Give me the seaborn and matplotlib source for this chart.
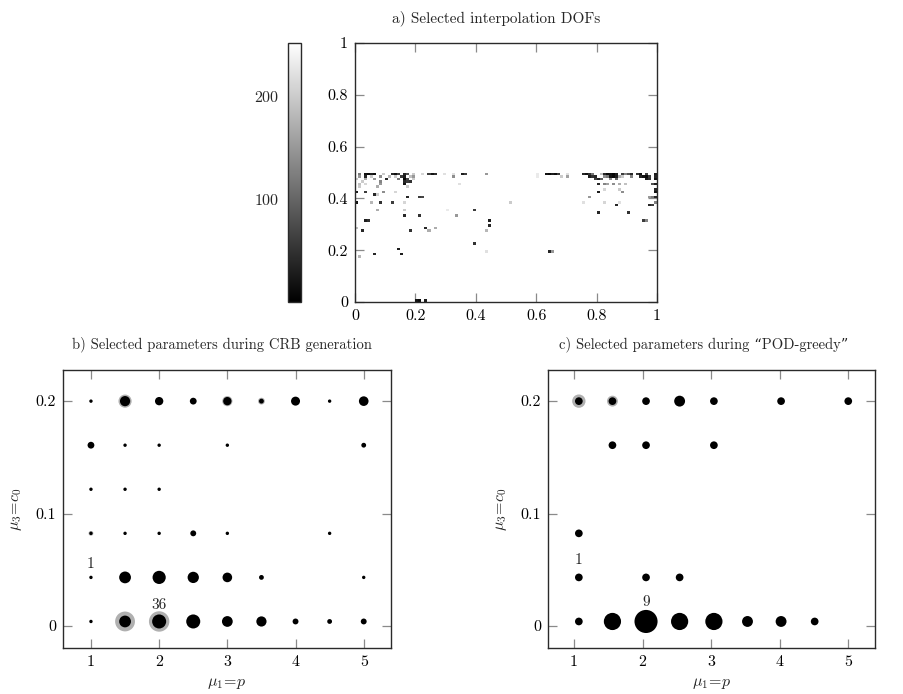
import numpy as np
import pandas as pd
import matplotlib
matplotlib.use("Agg")
import matplotlib.pyplot as plt
from matplotlib.ticker import FuncFormatter, FixedLocator
import seaborn as sns

sns.set_theme(style="white")
plt.rcParams["font.family"] = ["cmr10", "DejaVu Serif"]
plt.rcParams["mathtext.fontset"] = "cm"
plt.rcParams["axes.formatter.use_mathtext"] = True
plt.rcParams["axes.unicode_minus"] = False

# ---------------- data ----------------
# a) interpolation DOFs on a 100x100 grid: column, row, selection order
dof_col = [1, 3, 4, 5, 6, 9, 12, 13, 14, 16, 17, 19, 22, 24, 25, 26, 29, 32, 35, 36, 43,
           1, 3, 5, 8, 11, 13, 15, 16, 18, 19, 32,
           0, 3, 6, 10, 14, 16, 17, 19,
           2, 8, 16, 17, 18,
           1, 3, 8, 16, 34,
           1, 7, 17,
           0, 3, 9, 13,
           6, 7,
           17, 21, 22,
           0, 5, 8, 12, 16,
           7, 16, 30, 39,
           16, 21,
           3, 4,
           23, 26, 0,
           2, 18, 24,
           14,
           6, 15, 1,
           20, 21, 23,
           60, 63, 64, 65, 66, 67, 70, 75, 76, 77, 78, 81, 82, 83, 84, 85, 86, 88, 89, 90, 91, 93, 94, 96, 99,
           60, 68, 70, 77, 78, 79, 82, 83, 84, 85, 86, 87, 88, 91, 94, 95, 96, 97, 99,
           79, 80, 81, 84, 86, 96, 97, 99,
           80, 82, 83, 85, 87, 89, 98, 99,
           82, 87, 99,
           80, 88, 99,
           77, 97, 98, 99,
           51, 75, 82, 87, 99,
           86, 97, 98,
           80, 90,
           33,
           44, 95, 96,
           44,
           43,
           39,
           43, 64, 65]
dof_row = [49] * 21 + [48] * 11 + [47] * 8 + [46] * 5 + [45] * 5 + [44] * 3 + [42] * 4 + \
          [41] * 2 + [40] * 3 + [38] * 5 + [35] * 4 + [33] * 2 + [31] * 2 + [28] * 3 + \
          [27] * 3 + [20] + [18, 18, 17] + [0] * 3 + \
          [49] * 25 + [48] * 19 + [47] * 8 + [45] * 8 + [43] * 3 + [42] * 3 + [40] * 4 + \
          [38] * 5 + [37] * 3 + [34] * 2 + [33] + [31] * 3 + [29] + [27] + [22] + [19] * 3
dof_order = [120, 20, 10, 30, 15, 200, 40, 15, 60, 40, 80, 200, 210, 60, 20, 45, 220, 220, 30, 60, 150,
             150, 40, 200, 140, 180, 200, 60, 30, 190, 150, 140,
             200, 170, 150, 40, 120, 10, 70, 200,
             200, 130, 40, 60, 50,
             190, 210, 150, 20, 220,
             200, 170, 200,
             30, 60, 140, 210,
             40, 200,
             40, 60, 70,
             20, 180, 50, 60, 210,
             170, 200, 230, 60,
             40, 50,
             30, 50,
             40, 170, 190,
             40, 50, 170,
             30,
             40, 30, 180,
             20, 10, 30,
             230, 20, 10, 30, 15, 60, 220, 40, 20, 50, 120, 190, 40, 10, 15, 5, 30, 60, 130, 80, 40, 50, 20, 70, 30,
             230, 200, 160, 30, 50, 40, 140, 120, 20, 10, 30, 170, 200, 130, 40, 20, 10, 60, 40,
             60, 30, 90, 140, 100, 30, 50, 20,
             40, 130, 160, 140, 170, 190, 80, 30,
             210, 200, 40,
             30, 140, 20,
             150, 150, 120, 40,
             200, 220, 210, 220, 130,
             40, 40, 60,
             40, 50,
             150,
             30, 60, 130,
             40,
             180,
             50,
             220, 40, 150]

# b) CRB generation: selected (mu1, c0) and counts
crb_mu1 = [1, 1.5, 2, 2.5, 3, 3.5, 4, 4.5, 5,
           1, 1.5, 2, 3, 5,
           1, 1.5, 2,
           1, 1.5, 2, 2.5, 3, 4.5,
           1, 1.5, 2, 2.5, 3, 3.5, 5,
           1, 1.5, 2, 2.5, 3, 3.5, 4, 4.5, 5]
crb_c0 = [0.2] * 9 + [0.1608] * 5 + [0.1216] * 3 + [0.0824] * 6 + [0.0432] * 7 + [0.004] * 9
crb_count = [1, 9, 6, 4, 6, 2, 7, 1, 8,
             4, 1, 1, 1, 2,
             1, 1, 1,
             1, 1, 1, 3, 1, 1,
             1, 12, 15, 11, 8, 2, 1,
             1, 12, 17, 17, 10, 9, 3, 2, 3]
crb_halo_mu1 = [1.5, 3, 3.5, 1, 1.5, 2]
crb_halo_c0 = [0.2, 0.2, 0.2, 0.0824, 0.004, 0.004]
crb_halo_count = [15, 9, 4, 2, 34, 36]

# c) POD-greedy
pod_mu1 = [1.07, 1.56, 2.05, 2.54, 3.04, 4.02, 5.0,
           1.56, 2.05, 3.04,
           1.07,
           1.07, 2.05, 2.54,
           1.07, 1.56, 2.05, 2.54, 3.04, 3.53, 4.02, 4.51]
pod_c0 = [0.2] * 7 + [0.1608] * 3 + [0.0824] + [0.0432] * 3 + [0.004] * 8
pod_count = [1, 1, 1, 2, 1, 1, 1,
             1, 1, 1,
             1,
             1, 1, 1,
             1, 5, 9, 5, 5, 2, 2, 1]
pod_halo_mu1 = [1.07, 1.56]
pod_halo_c0 = [0.2, 0.2]
pod_halo_count = [3, 2]

# ---------------- figure ----------------
W, H = 904, 694
fig = plt.figure(figsize=(W / 100, H / 100), dpi=100)


def box(x0, y0, x1, y1):
    return [x0 / W, 1 - y1 / H, (x1 - x0) / W, (y1 - y0) / H]


fmt = FuncFormatter(lambda v, p: ("%g" % round(v, 6)))
TICK_C = "#8a8a8a"
FS = 11.5


def style_axes(ax):
    for s in ax.spines.values():
        s.set_color("#2a2a2a")
        s.set_linewidth(1.0)
    ax.tick_params(direction="in", length=6.5, width=0.9, color=TICK_C,
                   top=True, right=True, bottom=True, left=True,
                   labelsize=FS, pad=5, labelcolor="black")


# a) heatmap
ax_h = fig.add_axes(box(355, 43, 657, 302))
grid = np.full((100, 100), np.nan)
for c, r, v in zip(dof_col, dof_row, dof_order):
    grid[r, c] = v
edges = np.linspace(0, 1, 101)
mesh = ax_h.pcolormesh(edges, edges, grid, cmap="gray", vmin=1, vmax=251, shading="flat")
ax_h.set_xlim(0, 1)
ax_h.set_ylim(0, 1)
ax_h.set_facecolor("white")
ax_h.xaxis.set_major_locator(FixedLocator([0, 0.2, 0.4, 0.6, 0.8, 1]))
ax_h.yaxis.set_major_locator(FixedLocator([0, 0.2, 0.4, 0.6, 0.8, 1]))
ax_h.xaxis.set_major_formatter(fmt)
ax_h.yaxis.set_major_formatter(fmt)
style_axes(ax_h)
fig.text(496 / W, 1 - 18 / H, "a) Selected interpolation DOFs", fontsize=11,
         ha="center", va="center")

cax = fig.add_axes(box(288, 43, 301, 302))
cb = fig.colorbar(mesh, cax=cax)
cb.set_ticks([100, 200])
cax.yaxis.set_ticks_position("both")
cax.yaxis.set_label_position("left")
cax.tick_params(direction="in", length=4, width=0.9, color=TICK_C, labelsize=FS,
                left=True, right=True, labelleft=True, labelright=False, pad=6)
cb.outline.set_edgecolor("#2a2a2a")
cb.outline.set_linewidth(1.0)


def bubble(ax, mu1, c0, cnt, hmu1, hc0, hcnt, cmax, smax, labels):
    df = pd.DataFrame({"mu1": mu1, "c0": c0, "n": cnt})
    dh = pd.DataFrame({"mu1": hmu1, "c0": hc0, "n": hcnt})
    sns.scatterplot(data=dh, x="mu1", y="c0", size="n", sizes=(0, smax), size_norm=(0, cmax),
                    color="#b0b0b0", linewidth=0, legend=False, ax=ax, zorder=2)
    sns.scatterplot(data=df, x="mu1", y="c0", size="n", sizes=(0, smax), size_norm=(0, cmax),
                    color="black", linewidth=0, legend=False, ax=ax, zorder=3)
    for (lx, ly, txt, off) in labels:
        ax.annotate(txt, (lx, ly), xytext=(0, off), textcoords="offset points",
                    ha="center", va="center", fontsize=FS - 0.5)
    ax.set_ylim(-0.0196, 0.2277)
    ax.xaxis.set_major_locator(FixedLocator([1, 2, 3, 4, 5]))
    ax.yaxis.set_major_locator(FixedLocator([0, 0.1, 0.2]))
    ax.xaxis.set_major_formatter(fmt)
    ax.yaxis.set_major_formatter(fmt)
    style_axes(ax)
    ax.set_xlabel(r"$\mu_1\!=\!p$", fontsize=FS, labelpad=5)
    ax.set_ylabel(r"$\mu_3\!=\!c_0$", fontsize=FS, labelpad=8)


ax_b = fig.add_axes(box(63, 370, 391, 648))
bubble(ax_b, crb_mu1, crb_c0, crb_count, crb_halo_mu1, crb_halo_c0, crb_halo_count,
       36, 36 * 6.0, [(1, 0.0432, "1", 9.4), (2, 0.004, "36", 11.5)])
ax_b.set_xlim(0.59, 5.4)
fig.text(222 / W, 1 - 344 / H, "b) Selected parameters during CRB generation",
         fontsize=10.5, ha="center", va="center")

ax_c = fig.add_axes(box(548, 370, 875, 648))
bubble(ax_c, pod_mu1, pod_c0, pod_count, pod_halo_mu1, pod_halo_c0, pod_halo_count,
       9, 9 * 30.7, [(1.07, 0.0432, "1", 12.2), (2.05, 0.004, "9", 13.7)])
ax_c.set_xlim(0.62, 5.39)
fig.text(704 / W, 1 - 344 / H, "c) Selected parameters during \u201cPOD-greedy\u201d",
         fontsize=10.5, ha="center", va="center")

fig.savefig("out.png", dpi=100, facecolor="white")
